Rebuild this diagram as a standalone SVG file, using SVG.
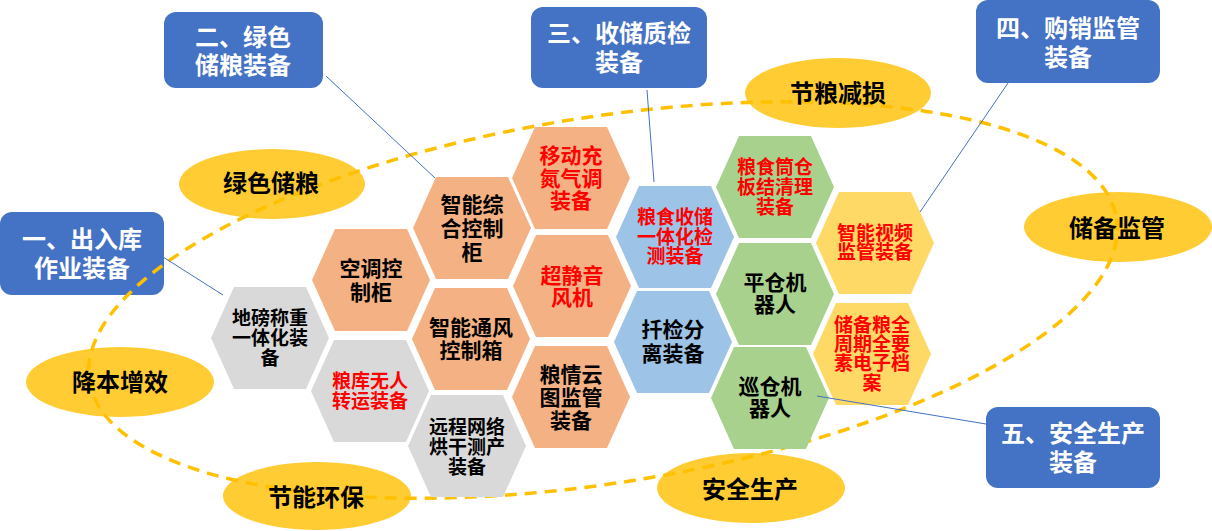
<svg xmlns="http://www.w3.org/2000/svg" width="1212" height="531" viewBox="0 0 1212 531">
<defs>
<style>
text{font-family:"Liberation Sans","Noto Sans CJK SC",sans-serif;font-weight:bold;text-anchor:middle}
.box rect{fill:#4472C4}
.box text{fill:#FFFFFF;font-size:24px}
.lbl ellipse{fill:#FFCC33}
.lbl text{fill:#000000;font-size:24px}
.ring{fill:none;stroke:#FFC000;stroke-width:3.5;stroke-dasharray:12 8}
.or polygon{fill:#F4B183}
.gy polygon{fill:#D9D9D9}
.bl polygon{fill:#9DC3E6}
.gn polygon{fill:#A9D18E}
.yl polygon{fill:#FFD966}
.k{fill:#000000}
.r{fill:#FF0000}
.s21{font-size:21px}
.s19{font-size:19px}
.conn line{stroke:#4472C4;stroke-width:1}
</style>
<ellipse id="ringshape" class="ring" cx="603" cy="300" rx="520" ry="183" transform="rotate(-9 603 300)"/>
<clipPath id="c1"><ellipse cx="272" cy="184" rx="93" ry="35"/></clipPath>
<clipPath id="c2"><ellipse cx="838" cy="93" rx="93" ry="35"/></clipPath>
<clipPath id="c3"><ellipse cx="1118" cy="227" rx="94" ry="35"/></clipPath>
<clipPath id="c4"><ellipse cx="120" cy="382" rx="94" ry="35"/></clipPath>
<clipPath id="c5"><ellipse cx="317" cy="496" rx="94" ry="34"/></clipPath>
<clipPath id="c6"><ellipse cx="751" cy="488" rx="94" ry="35"/></clipPath>
</defs>
<rect width="1212" height="531" fill="#FFFFFF"/>

<g id="box1" class="box"><rect x="0" y="212" width="164" height="83" rx="12"/><text x="82" y="248">一、出入库</text><text x="82" y="277">作业装备</text></g>
<g id="box2" class="box"><rect x="164" y="12" width="159" height="76" rx="12"/><text x="243" y="46">二、绿色</text><text x="243" y="74">储粮装备</text></g>
<g id="box3" class="box"><rect x="531" y="7" width="176" height="81" rx="12"/><text x="619" y="42">三、收储质检</text><text x="619" y="71">装备</text></g>
<g id="box4" class="box"><rect x="976" y="0" width="184" height="83" rx="12"/><text x="1068" y="37">四、购销监管</text><text x="1068" y="66">装备</text></g>
<g id="box5" class="box"><rect x="986" y="407" width="174" height="81" rx="12"/><text x="1073" y="442">五、安全生产</text><text x="1073" y="471">装备</text></g>

<use id="ring" href="#ringshape"/>

<g id="lbl-lsrl" class="lbl"><ellipse cx="272" cy="184" rx="93" ry="35"/><use href="#ringshape" clip-path="url(#c1)"/><text x="271" y="192">绿色储粮</text></g>
<g id="lbl-jljs" class="lbl"><ellipse cx="838" cy="93" rx="93" ry="35"/><use href="#ringshape" clip-path="url(#c2)"/><text x="838" y="102">节粮减损</text></g>
<g id="lbl-cbjg" class="lbl"><ellipse cx="1118" cy="227" rx="94" ry="35"/><use href="#ringshape" clip-path="url(#c3)"/><text x="1117" y="237">储备监管</text></g>
<g id="lbl-jbzx" class="lbl"><ellipse cx="120" cy="382" rx="94" ry="35"/><use href="#ringshape" clip-path="url(#c4)"/><text x="120" y="391">降本增效</text></g>
<g id="lbl-jnhb" class="lbl"><ellipse cx="317" cy="496" rx="94" ry="34"/><use href="#ringshape" clip-path="url(#c5)"/><text x="316" y="506">节能环保</text></g>
<g id="lbl-aqsc" class="lbl"><ellipse cx="751" cy="488" rx="94" ry="35"/><use href="#ringshape" clip-path="url(#c6)"/><text x="750" y="498">安全生产</text></g>

<g id="h1" class="gy" transform="translate(270,338)"><polygon points="-59,0 -36,-51 36,-51 59,0 36,51 -36,51"/><text class="k s19" y="-13">地磅称重</text><text class="k s19" y="7">一体化装</text><text class="k s19" y="27">备</text></g>
<g id="h2" class="or" transform="translate(371,280)"><polygon points="-59,0 -36,-51 36,-51 59,0 36,51 -36,51"/><text class="k s21" y="-4">空调控</text><text class="k s21" y="20">制柜</text></g>
<g id="h3" class="gy" transform="translate(370,391)"><polygon points="-59,0 -36,-51 36,-51 59,0 36,51 -36,51"/><text class="r s19" y="-3">粮库无人</text><text class="r s19" y="17">转运装备</text></g>
<g id="h4" class="or" transform="translate(472,228)"><polygon points="-59,0 -36,-51 36,-51 59,0 36,51 -36,51"/><text class="k s21" y="-16">智能综</text><text class="k s21" y="8">合控制</text><text class="k s21" y="32">柜</text></g>
<g id="h5" class="or" transform="translate(471,339)"><polygon points="-59,0 -36,-51 36,-51 59,0 36,51 -36,51"/><text class="k s21" y="-4">智能通风</text><text class="k s21" y="19">控制箱</text></g>
<g id="h6" class="gy" transform="translate(467,446)"><polygon points="-59,0 -36,-51 36,-51 59,0 36,51 -36,51"/><text class="k s19" y="-12">远程网络</text><text class="k s19" y="8">烘干测产</text><text class="k s19" y="28">装备</text></g>
<g id="h7" class="or" transform="translate(571,178)"><polygon points="-59,0 -36,-51 36,-51 59,0 36,51 -36,51"/><text class="r s21" y="-15">移动充</text><text class="r s21" y="8">氮气调</text><text class="r s21" y="30">装备</text></g>
<g id="h8" class="or" transform="translate(572,286)"><polygon points="-59,0 -36,-51 36,-51 59,0 36,51 -36,51"/><text class="r s21" y="-3">超静音</text><text class="r s21" y="19">风机</text></g>
<g id="h9" class="or" transform="translate(571,397)"><polygon points="-59,0 -36,-51 36,-51 59,0 36,51 -36,51"/><text class="k s21" y="-15">粮情云</text><text class="k s21" y="8">图监管</text><text class="k s21" y="31">装备</text></g>
<g id="h10" class="bl" transform="translate(675,237)"><polygon points="-59,0 -36,-51 36,-51 59,0 36,51 -36,51"/><text class="r s19" y="-13">粮食收储</text><text class="r s19" y="7">一体化检</text><text class="r s19" y="26">测装备</text></g>
<g id="h11" class="bl" transform="translate(673,342)"><polygon points="-59,0 -36,-51 36,-51 59,0 36,51 -36,51"/><text class="k s21" y="-5">扦检分</text><text class="k s21" y="19">离装备</text></g>
<g id="h12" class="gn" transform="translate(775,187)"><polygon points="-59,0 -36,-51 36,-51 59,0 36,51 -36,51"/><text class="r s19" y="-13">粮食筒仓</text><text class="r s19" y="7">板结清理</text><text class="r s19" y="27">装备</text></g>
<g id="h13" class="gn" transform="translate(775,294)"><polygon points="-59,0 -36,-51 36,-51 59,0 36,51 -36,51"/><text class="k s21" y="-4">平仓机</text><text class="k s21" y="18">器人</text></g>
<g id="h14" class="gn" transform="translate(770,398)"><polygon points="-59,0 -36,-51 36,-51 59,0 36,51 -36,51"/><text class="k s21" y="-4">巡仓机</text><text class="k s21" y="18">器人</text></g>
<g id="h15" class="yl" transform="translate(875,243)"><polygon points="-59,0 -36,-51 36,-51 59,0 36,51 -36,51"/><text class="r s19" y="-3">智能视频</text><text class="r s19" y="16">监管装备</text></g>
<g id="h16" class="yl" transform="translate(872,354)"><polygon points="-59,0 -36,-51 36,-51 59,0 36,51 -36,51"/><text class="r s19" y="-22">储备粮全</text><text class="r s19" y="-3">周期全要</text><text class="r s19" y="16">素电子档</text><text class="r s19" y="36">案</text></g>

<g id="connectors" class="conn">
<line x1="163" y1="257" x2="223" y2="295"/>
<line x1="326" y1="76" x2="435" y2="178"/>
<line x1="647" y1="90" x2="654" y2="182"/>
<line x1="1008" y1="83" x2="920" y2="212"/>
<line x1="986" y1="424" x2="817" y2="396"/>
</g>
</svg>
